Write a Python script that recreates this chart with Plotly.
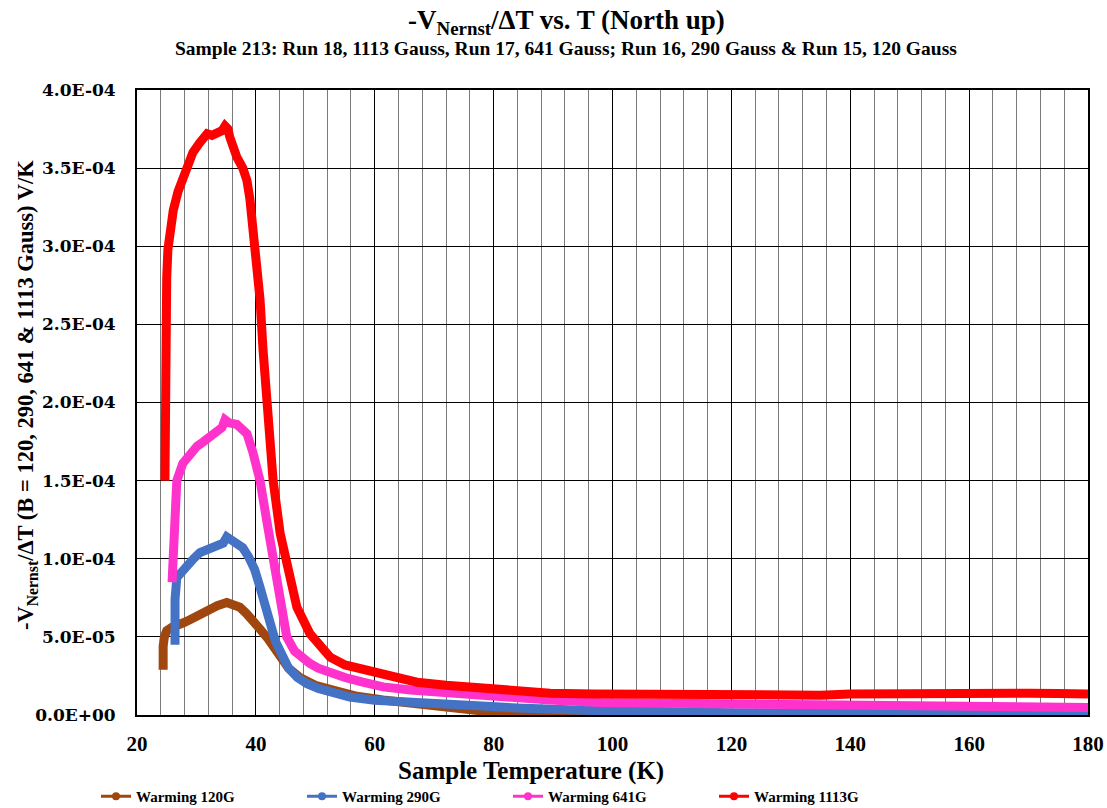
import plotly.graph_objects as go

# Warming runs, sample 213: temperature (K) and -V_Nernst/dT (units of 1e-4 V/K)
t_120 = [24.4, 24.3, 24.4, 24.6, 25.0, 25.8, 26.7, 27.8, 28.9, 30.3, 31.8, 33.5, 35.1,
         36.2, 37.3, 38.4, 39.5, 40.7, 42.0, 43.2, 44.3, 45.5, 47.4, 50.0, 53.0, 57.0,
         61.4, 67.0, 72.0, 78.2, 84.0, 89.5, 95.0, 100.0, 107.0, 115.0]
v_120 = [0.29, 0.37, 0.44, 0.50, 0.54, 0.56, 0.58, 0.59, 0.61, 0.64, 0.67, 0.70, 0.72,
         0.71, 0.69, 0.65, 0.61, 0.55, 0.49, 0.42, 0.36, 0.30, 0.24, 0.19, 0.16, 0.12,
         0.096, 0.07, 0.045, 0.025, 0.012, 0.004, 0.0, -0.005, -0.01, -0.015]

t_290 = [26.4, 26.3, 26.4, 26.7, 27.5, 28.4, 29.5, 30.6, 32.0, 33.5, 34.5, 35.1, 35.8,
         36.8, 37.8, 38.8, 39.8, 40.6, 41.5, 42.5, 43.3, 44.6, 45.5, 47.0, 48.6, 50.5,
         52.5, 55.8, 60.0, 67.1, 75.0, 83.9, 95.0, 106.0, 120.0, 140.0, 160.0, 180.0]
v_290 = [0.45, 0.60, 0.74, 0.88, 0.92, 0.95, 1.00, 1.04, 1.06, 1.08, 1.10, 1.14, 1.12,
         1.10, 1.07, 1.01, 0.93, 0.83, 0.70, 0.56, 0.47, 0.37, 0.30, 0.24, 0.20, 0.17,
         0.15, 0.115, 0.095, 0.077, 0.06, 0.045, 0.03, 0.02, 0.015, 0.012, 0.012, 0.012]

t_641 = [25.9, 26.0, 26.1, 26.3, 26.7, 27.7, 28.9, 30.1, 31.2, 32.3, 33.5, 34.3, 34.8,
         35.5, 36.8, 37.8, 38.5, 39.5, 40.7, 41.8, 42.9, 44.0, 45.2, 46.5, 48.0, 49.1,
         50.5, 52.5, 55.0, 58.0, 61.4, 66.0, 72.7, 80.0, 89.5, 98.0, 106.0, 120.0,
         140.0, 160.0, 180.0]
v_641 = [0.85, 1.00, 1.16, 1.38, 1.50, 1.61, 1.67, 1.72, 1.75, 1.78, 1.81, 1.84, 1.89,
         1.87, 1.86, 1.83, 1.80, 1.68, 1.50, 1.25, 1.00, 0.74, 0.50, 0.41, 0.36, 0.33,
         0.30, 0.27, 0.24, 0.21, 0.18, 0.16, 0.14, 0.115, 0.096, 0.08, 0.077, 0.065,
         0.055, 0.05, 0.048]

t_1113 = [24.7, 24.7, 24.8, 24.9, 25.0, 25.2, 25.6, 26.1, 26.9, 27.7, 28.5, 29.4, 30.5,
          31.8, 32.6, 33.5, 34.3, 34.8, 35.3, 35.6, 36.2, 36.8, 37.8, 38.5, 39.0, 39.9,
          40.7, 41.2, 41.9, 42.9, 44.1, 45.2, 46.9, 49.1, 52.5, 55.0, 58.7, 62.0, 67.1,
          72.0, 78.2, 84.0, 89.5, 97.0, 106.0, 115.0, 125.0, 135.0, 140.0, 150.0, 160.0,
          170.0, 175.0, 180.0]
v_1113 = [1.50, 2.00, 2.40, 2.55, 2.80, 2.98, 3.12, 3.23, 3.35, 3.44, 3.53, 3.60, 3.66,
          3.72, 3.71, 3.72, 3.74, 3.77, 3.75, 3.70, 3.63, 3.57, 3.50, 3.42, 3.30, 2.98,
          2.66, 2.34, 2.02, 1.50, 1.16, 0.95, 0.69, 0.52, 0.37, 0.32, 0.29, 0.25, 0.21,
          0.19, 0.17, 0.155, 0.14, 0.135, 0.13, 0.125, 0.125, 0.127, 0.135, 0.14, 0.142,
          0.14, 0.138, 0.135]

series_names = ["Warming 120G", "Warming 290G", "Warming 641G", "Warming 1113G"]
series_colors = ["#A0470F", "#4472C4", "#FF33CC", "#FF0000"]
series_t = [t_120, t_290, t_641, t_1113]
series_v = [v_120, v_290, v_641, v_1113]

y_tickvals = [0, 0.5e-4, 1.0e-4, 1.5e-4, 2.0e-4, 2.5e-4, 3.0e-4, 3.5e-4, 4.0e-4]
y_ticktext = ["0.0E+00", "5.0E-05", "1.0E-04", "1.5E-04", "2.0E-04", "2.5E-04",
              "3.0E-04", "3.5E-04", "4.0E-04"]

SERIF = "Liberation Serif, Times New Roman, serif"
WIDE_SERIF = "DejaVu Serif, serif"

W, H = 1107, 808
M_L, M_R, M_T, M_B = 137, 19, 90, 93
plot_w = W - M_L - M_R
plot_h = H - M_T - M_B


def px_x(px):
    """Horizontal pixel position -> paper fraction."""
    return (px - M_L) / plot_w


def px_y(py):
    """Vertical pixel position (from top) -> paper fraction."""
    return (H - M_B - py) / plot_h


fig = go.Figure()

for name, color, t, v in zip(series_names, series_colors, series_t, series_v):
    fig.add_trace(go.Scatter(
        x=t, y=[val * 1e-4 for val in v], mode="lines", name=name,
        line=dict(color=color, width=9), showlegend=False,
    ))

# legend entries: line with a marker, as in the data sheet chart
for name, color in zip(series_names, series_colors):
    fig.add_trace(go.Scatter(
        x=[None], y=[None], mode="lines+markers", name=name,
        line=dict(color=color, width=3),
        marker=dict(color=color, size=8, symbol="circle"),
    ))

fig.update_layout(
    width=W, height=H,
    margin=dict(l=M_L, r=M_R, t=M_T, b=M_B, autoexpand=False),
    paper_bgcolor="white", plot_bgcolor="white",
    font=dict(family=SERIF, color="black"),
    showlegend=True,
    legend=dict(
        orientation="h", x=px_x(96), y=px_y(780), xanchor="left", yanchor="top",
        font=dict(family=SERIF, size=15, color="black", weight="bold"),
        entrywidth=161, entrywidthmode="pixels",
        itemwidth=30, tracegroupgap=0, bgcolor="rgba(0,0,0,0)",
    ),
    annotations=[
        dict(text="<b>-V<sub>Nernst</sub>/ΔT vs. T (North up)</b>",
             x=px_x(566), y=px_y(22), yanchor="middle",
             xref="paper", yref="paper", showarrow=False,
             font=dict(family=SERIF, size=27, color="black")),
        dict(text="<b>Sample 213: Run 18, 1113 Gauss, Run 17, 641 Gauss; Run 16, 290 Gauss &amp; Run 15, 120 Gauss</b>",
             x=px_x(566), y=px_y(48), yanchor="middle",
             xref="paper", yref="paper", showarrow=False,
             font=dict(family=SERIF, size=19.5, color="black")),
        dict(text="<b>Sample Temperature (K)</b>",
             x=px_x(531), y=px_y(771), yanchor="middle",
             xref="paper", yref="paper", showarrow=False,
             font=dict(family=SERIF, size=25, color="black")),
        dict(text="<b>-V<sub>Nernst</sub>/ΔT (B = 120, 290, 641 &amp; 1113 Gauss) V/K</b>",
             x=px_x(27), y=px_y(395), xanchor="center", yanchor="middle",
             xref="paper", yref="paper", showarrow=False, textangle=-90,
             font=dict(family=SERIF, size=22.5, color="black")),
    ],
)

fig.update_xaxes(
    range=[20, 180], tickmode="linear", tick0=20, dtick=20,
    showgrid=True, gridcolor="black", gridwidth=1.3,
    minor=dict(dtick=4, showgrid=True, gridcolor="#7a7a7a", gridwidth=1.2),
    showline=True, linecolor="black", linewidth=2, mirror=True,
    ticks="", zeroline=False, ticklabelstandoff=9, automargin=False,
    tickfont=dict(family=SERIF, size=21, color="black", weight="bold"),
)
fig.update_yaxes(
    range=[0, 4.0e-4], tickvals=y_tickvals, ticktext=y_ticktext,
    showgrid=True, gridcolor="black", gridwidth=1.3,
    showline=True, linecolor="black", linewidth=2, mirror=True,
    ticks="", zeroline=False, ticklabelstandoff=16, automargin=False,
    tickfont=dict(family=WIDE_SERIF, size=17, color="black", weight="bold"),
)

fig.write_html("out.html")
